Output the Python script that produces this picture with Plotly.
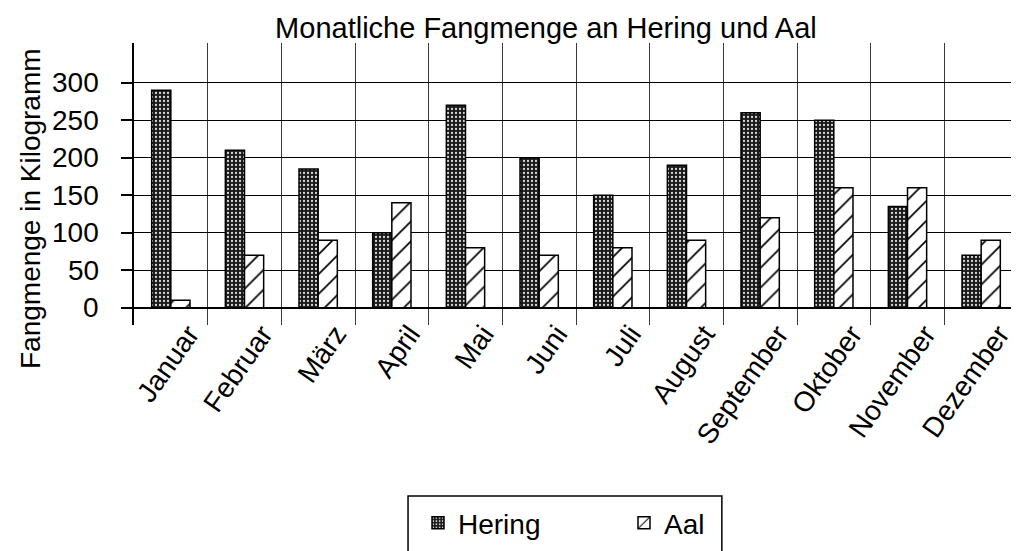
import plotly.graph_objects as go

months = ["Januar", "Februar", "März", "April", "Mai", "Juni", "Juli",
          "August", "September", "Oktober", "November", "Dezember"]
hering = [290, 210, 185, 100, 270, 200, 150, 190, 260, 250, 135, 70]
aal = [10, 70, 90, 140, 80, 70, 80, 90, 120, 160, 160, 90]
y_ticks = [0, 50, 100, 150, 200, 250, 300]

FONT = "Liberation Sans, Arial, sans-serif"
FS = 28

fig = go.Figure()
fig.add_trace(go.Bar(
    x=months, y=hering, name="Hering",
    marker=dict(
        color="#1a1a1a",
        line=dict(color="black", width=1.5),
        pattern=dict(shape=".", bgcolor="#1a1a1a", fgcolor="#d8d8d8",
                     size=4, solidity=0.25, fillmode="replace"),
    ),
))
fig.add_trace(go.Bar(
    x=months, y=aal, name="Aal",
    marker=dict(
        color="white",
        line=dict(color="black", width=1.5),
        pattern=dict(shape="/", bgcolor="white", fgcolor="black",
                     size=14, solidity=0.12, fillmode="replace"),
    ),
))

# legend frame (open at the bottom, as in the reference)
fig.add_shape(type="rect", xref="paper", yref="paper",
              x0=0.31, x1=0.665, y0=-0.606, y1=-0.9,
              line=dict(color="black", width=1.5), fillcolor="rgba(0,0,0,0)",
              layer="above")

# y-axis title (placed as in the reference, slightly below the axis centre)
fig.add_annotation(text="Fangmenge in Kilogramm", xref="paper", yref="paper",
                   x=(30 - 134) / 884, y=(325 - 209) / 282,
                   xanchor="center", yanchor="middle", textangle=-90,
                   showarrow=False, font=dict(family=FONT, size=FS, color="black"))

# y tick labels, placed on the y scale with a wider gap to the tick marks
for v in y_ticks:
    fig.add_annotation(text=str(v), xref="paper", yref="y",
                       x=(101 - 134) / 884, y=v,
                       xanchor="right", yanchor="middle", showarrow=False,
                       font=dict(family=FONT, size=FS, color="black"))

fig.update_layout(
    width=1011, height=543,
    margin=dict(l=126, r=1, t=35, b=226, autoexpand=False),
    paper_bgcolor="white", plot_bgcolor="white",
    barmode="group", bargap=0.48, bargroupgap=0,
    font=dict(family=FONT, size=FS, color="black"),
    title=dict(text="Monatliche Fangmenge an Hering und Aal",
               x=0.466, xref="paper", xanchor="center",
               y=1 - 20 / 543, yref="container", yanchor="middle",
               font=dict(family=FONT, size=29, color="black")),
    showlegend=True,
    legend=dict(orientation="h", x=(418 - 134) / 884, xanchor="left", xref="paper",
                y=(325 - 523) / 282, yanchor="middle",
                borderwidth=0, bgcolor="rgba(0,0,0,0)",
                font=dict(family=FONT, size=FS, color="black"),
                entrywidth=161, itemwidth=30, traceorder="normal"),
)

fig.update_xaxes(
    type="category", tickson="boundaries", automargin=False,
    showgrid=True, gridcolor="#3a3a3a", gridwidth=1,
    showline=False, zeroline=False,
    ticks="", tickangle=-55, ticklabelshift=18, ticklabelstandoff=-14,
    tickfont=dict(family=FONT, size=FS, color="black"),
    range=[-0.5, 11.5],
)
fig.update_yaxes(
    range=[-23, 353], tickvals=y_ticks, automargin=False,
    showgrid=True, gridcolor="black", gridwidth=1,
    zeroline=True, zerolinecolor="black", zerolinewidth=1.5,
    showline=True, linecolor="black", linewidth=1.5,
    ticks="outside", ticklen=11, tickcolor="black", tickwidth=1.5,
    showticklabels=False,
)

fig.write_html("out.html")
